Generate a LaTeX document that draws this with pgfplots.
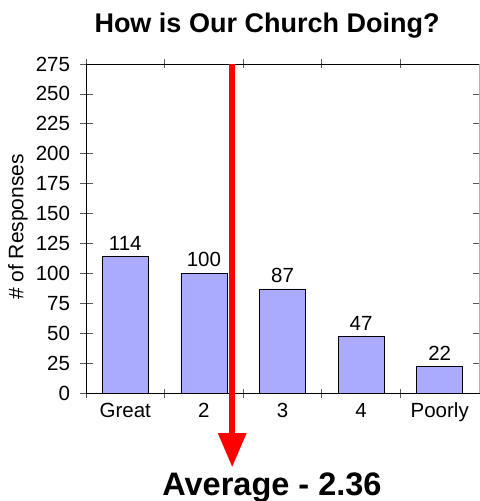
\documentclass[border=0pt]{standalone}
\usepackage{fontspec}
\setmainfont{Liberation Sans}
\usepackage{pgfplots}
\pgfplotsset{compat=1.18}
\usetikzlibrary{arrows.meta}
\definecolor{barblue}{RGB}{170,170,255}
\begin{document}
\begin{tikzpicture}[x=1bp,y=1bp]
\path[use as bounding box] (0,0) rectangle (480,-501);
\begin{axis}[
 at={(86bp,-64bp)}, anchor=north west,
 scale only axis, width=393bp, height=329bp,
 xmin=0.5, xmax=5.5, ymin=0, ymax=275,
 xtick={1,2,3,4,5}, xticklabels={Great,2,3,4,Poorly},
 minor xtick={0.5,1.5,2.5,3.5,4.5},
 ytick={0,25,...,275},
 tick align=center, major tick length=13bp, minor tick length=9bp,
 every major x tick/.style={draw=none},
 tick style={gray!70!black, line width=0.8bp},
 ticklabel style={font=\fontsize{20.5bp}{22bp}\selectfont},
 yticklabel style={xshift=-6bp},
 /pgf/number format/assume math mode=true,
 axis line style={line width=0.8bp},
 clip=false,
]
\addplot[ybar, bar width=46bp, fill=barblue, draw=black, line width=0.8bp,
  nodes near coords, every node near coord/.append style={font=\fontsize{20.5bp}{22bp}\selectfont, black, yshift=2.5bp}]
  coordinates {(1,114) (2,100) (3,87) (4,47) (5,22)};
\draw[gray!60, line width=0.8bp] (rel axis cs:1,0) -- (rel axis cs:1,1);
\addplot[red, line width=6bp, -{Triangle[width=27bp,length=34bp]}] coordinates {(2.36,275) (2.36,-62)};
\end{axis}
\node[font=\bfseries\fontsize{27bp}{29bp}\selectfont, anchor=base] at (267,-33) {How is Our Church Doing?};
\node[font=\bfseries\fontsize{32.5bp}{34bp}\selectfont, anchor=base] at (272,-495) {Average - 2.36};
\node[rotate=90, font=\fontsize{21bp}{23bp}\selectfont, anchor=center] at (18,-227) {\# of Responses};
\end{tikzpicture}
\end{document}
